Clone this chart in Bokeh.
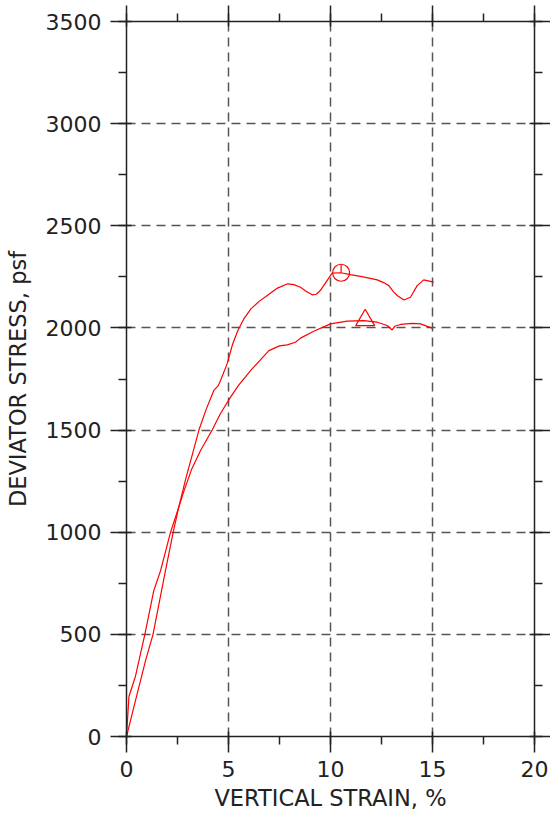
from bokeh.plotting import figure
from bokeh.models import LinearAxis, SingleIntervalTicker, Range1d, CustomJSTickFormatter
from bokeh.embed import file_html
from bokeh.resources import INLINE
import math

# Upper curve (circle marker)
strain_a = [0, 0.44, 0.93, 1.3, 1.91, 2.29, 2.56, 2.9, 3.2, 3.55, 3.9, 4.28, 4.5, 4.6, 4.93,
            5.2, 5.46, 5.75, 6.1, 6.5, 6.9, 7.4, 7.9, 8.2, 8.53, 8.8, 9.1, 9.3, 9.5, 10.08,
            10.5, 10.98, 11.6, 12.29, 12.6, 12.86, 13.1, 13.27, 13.6, 13.92, 14.25, 14.57, 15.06]
stress_a = [0, 176, 370, 500, 812, 1000, 1122, 1260, 1370, 1500, 1600, 1694, 1718, 1740, 1824,
            1920, 1987, 2044, 2093, 2130, 2159, 2195, 2216, 2212, 2199, 2180, 2162, 2165, 2183, 2268,
            2270, 2261, 2250, 2235, 2222, 2207, 2175, 2159, 2137, 2150, 2207, 2235, 2224]
# Lower curve (triangle marker)
strain_b = [0, 0.12, 0.44, 0.9, 1.34, 1.67, 2.16, 2.56, 2.81, 3.2, 3.63, 4.2, 4.6, 5.1, 5.5,
            6.08, 6.98, 7.5, 7.88, 8.28, 8.53, 9.18, 10.0, 10.82, 11.63, 12.29, 12.78, 13.02,
            13.15, 13.43, 14.0, 14.41, 14.98]
stress_b = [0, 196, 295, 500, 715, 812, 1000, 1122, 1200, 1310, 1400, 1500, 1580, 1661, 1720,
            1791, 1889, 1912, 1917, 1930, 1950, 1984, 2020, 2033, 2036, 2028, 2012, 1990,
            2008, 2017, 2022, 2020, 1999]

peak_a = ([10.52], [2270])
peak_b = ([11.7], [2038])

FONT = "DejaVu Sans"
AX = "#222222"

p = figure(width=550, height=815, output_backend="svg", toolbar_location=None,
           x_range=Range1d(0, 20), y_range=Range1d(0, 3500),
           min_border_left=126, min_border_right=16, min_border_top=21, min_border_bottom=79,
           x_axis_location=None, y_axis_location=None)
p.outline_line_color = None

def style(ax, labels=True):
    ax.axis_line_color = AX
    ax.axis_line_width = 1.5
    ax.major_tick_line_color = AX
    ax.major_tick_line_width = 1.5
    ax.minor_tick_line_color = AX
    ax.minor_tick_line_width = 1.5
    ax.major_tick_out = 16
    ax.major_tick_in = 5
    ax.minor_tick_out = 8
    ax.minor_tick_in = 0
    ax.major_label_text_font = FONT
    ax.major_label_text_font_size = "22px"
    ax.major_label_text_color = "#222222"
    ax.axis_label_text_font = FONT
    ax.axis_label_text_font_size = "22.5px"
    ax.axis_label_text_font_style = "normal"
    ax.axis_label_text_color = "#222222"
    ax.major_label_standoff = 8
    if not labels:
        ax.formatter = CustomJSTickFormatter(code="return ''")

xt = SingleIntervalTicker(interval=5, num_minor_ticks=2)
yt = SingleIntervalTicker(interval=500, num_minor_ticks=2)

xb = LinearAxis(ticker=xt, axis_label="VERTICAL STRAIN, %")
style(xb)
xb.axis_label_standoff = 5
p.add_layout(xb, "below")
yl = LinearAxis(ticker=yt, axis_label="DEVIATOR STRESS, psf")
style(yl)
yl.major_label_standoff = 9
yl.axis_label_standoff = 12
p.add_layout(yl, "left")
xa = LinearAxis(ticker=SingleIntervalTicker(interval=5, num_minor_ticks=2))
style(xa, labels=False)
p.add_layout(xa, "above")
yr = LinearAxis(ticker=SingleIntervalTicker(interval=500, num_minor_ticks=2))
style(yr, labels=False)
p.add_layout(yr, "right")

p.xgrid.ticker = xt
p.ygrid.ticker = yt
for g in (p.xgrid, p.ygrid):
    g.grid_line_color = "#555555"
    g.grid_line_width = 1.5
    g.grid_line_dash = "9 6"

p.line(strain_a, stress_a, line_color="#ff0000", line_width=1.2)
p.line(strain_b, stress_b, line_color="#ff0000", line_width=1.2)
p.scatter(peak_a[0], peak_a[1], marker="circle", size=17, fill_color=None,
          line_color="#ff0000", line_width=1.2)
p.ray(peak_a[0], peak_a[1], length=8, length_units="screen", angle=math.pi / 2,
      line_color="#ff0000", line_width=1.2)
p.scatter(peak_b[0], peak_b[1], marker="triangle", size=19, fill_color=None,
          line_color="#ff0000", line_width=1.2)

open("out.html", "w").write(file_html(p, INLINE))
